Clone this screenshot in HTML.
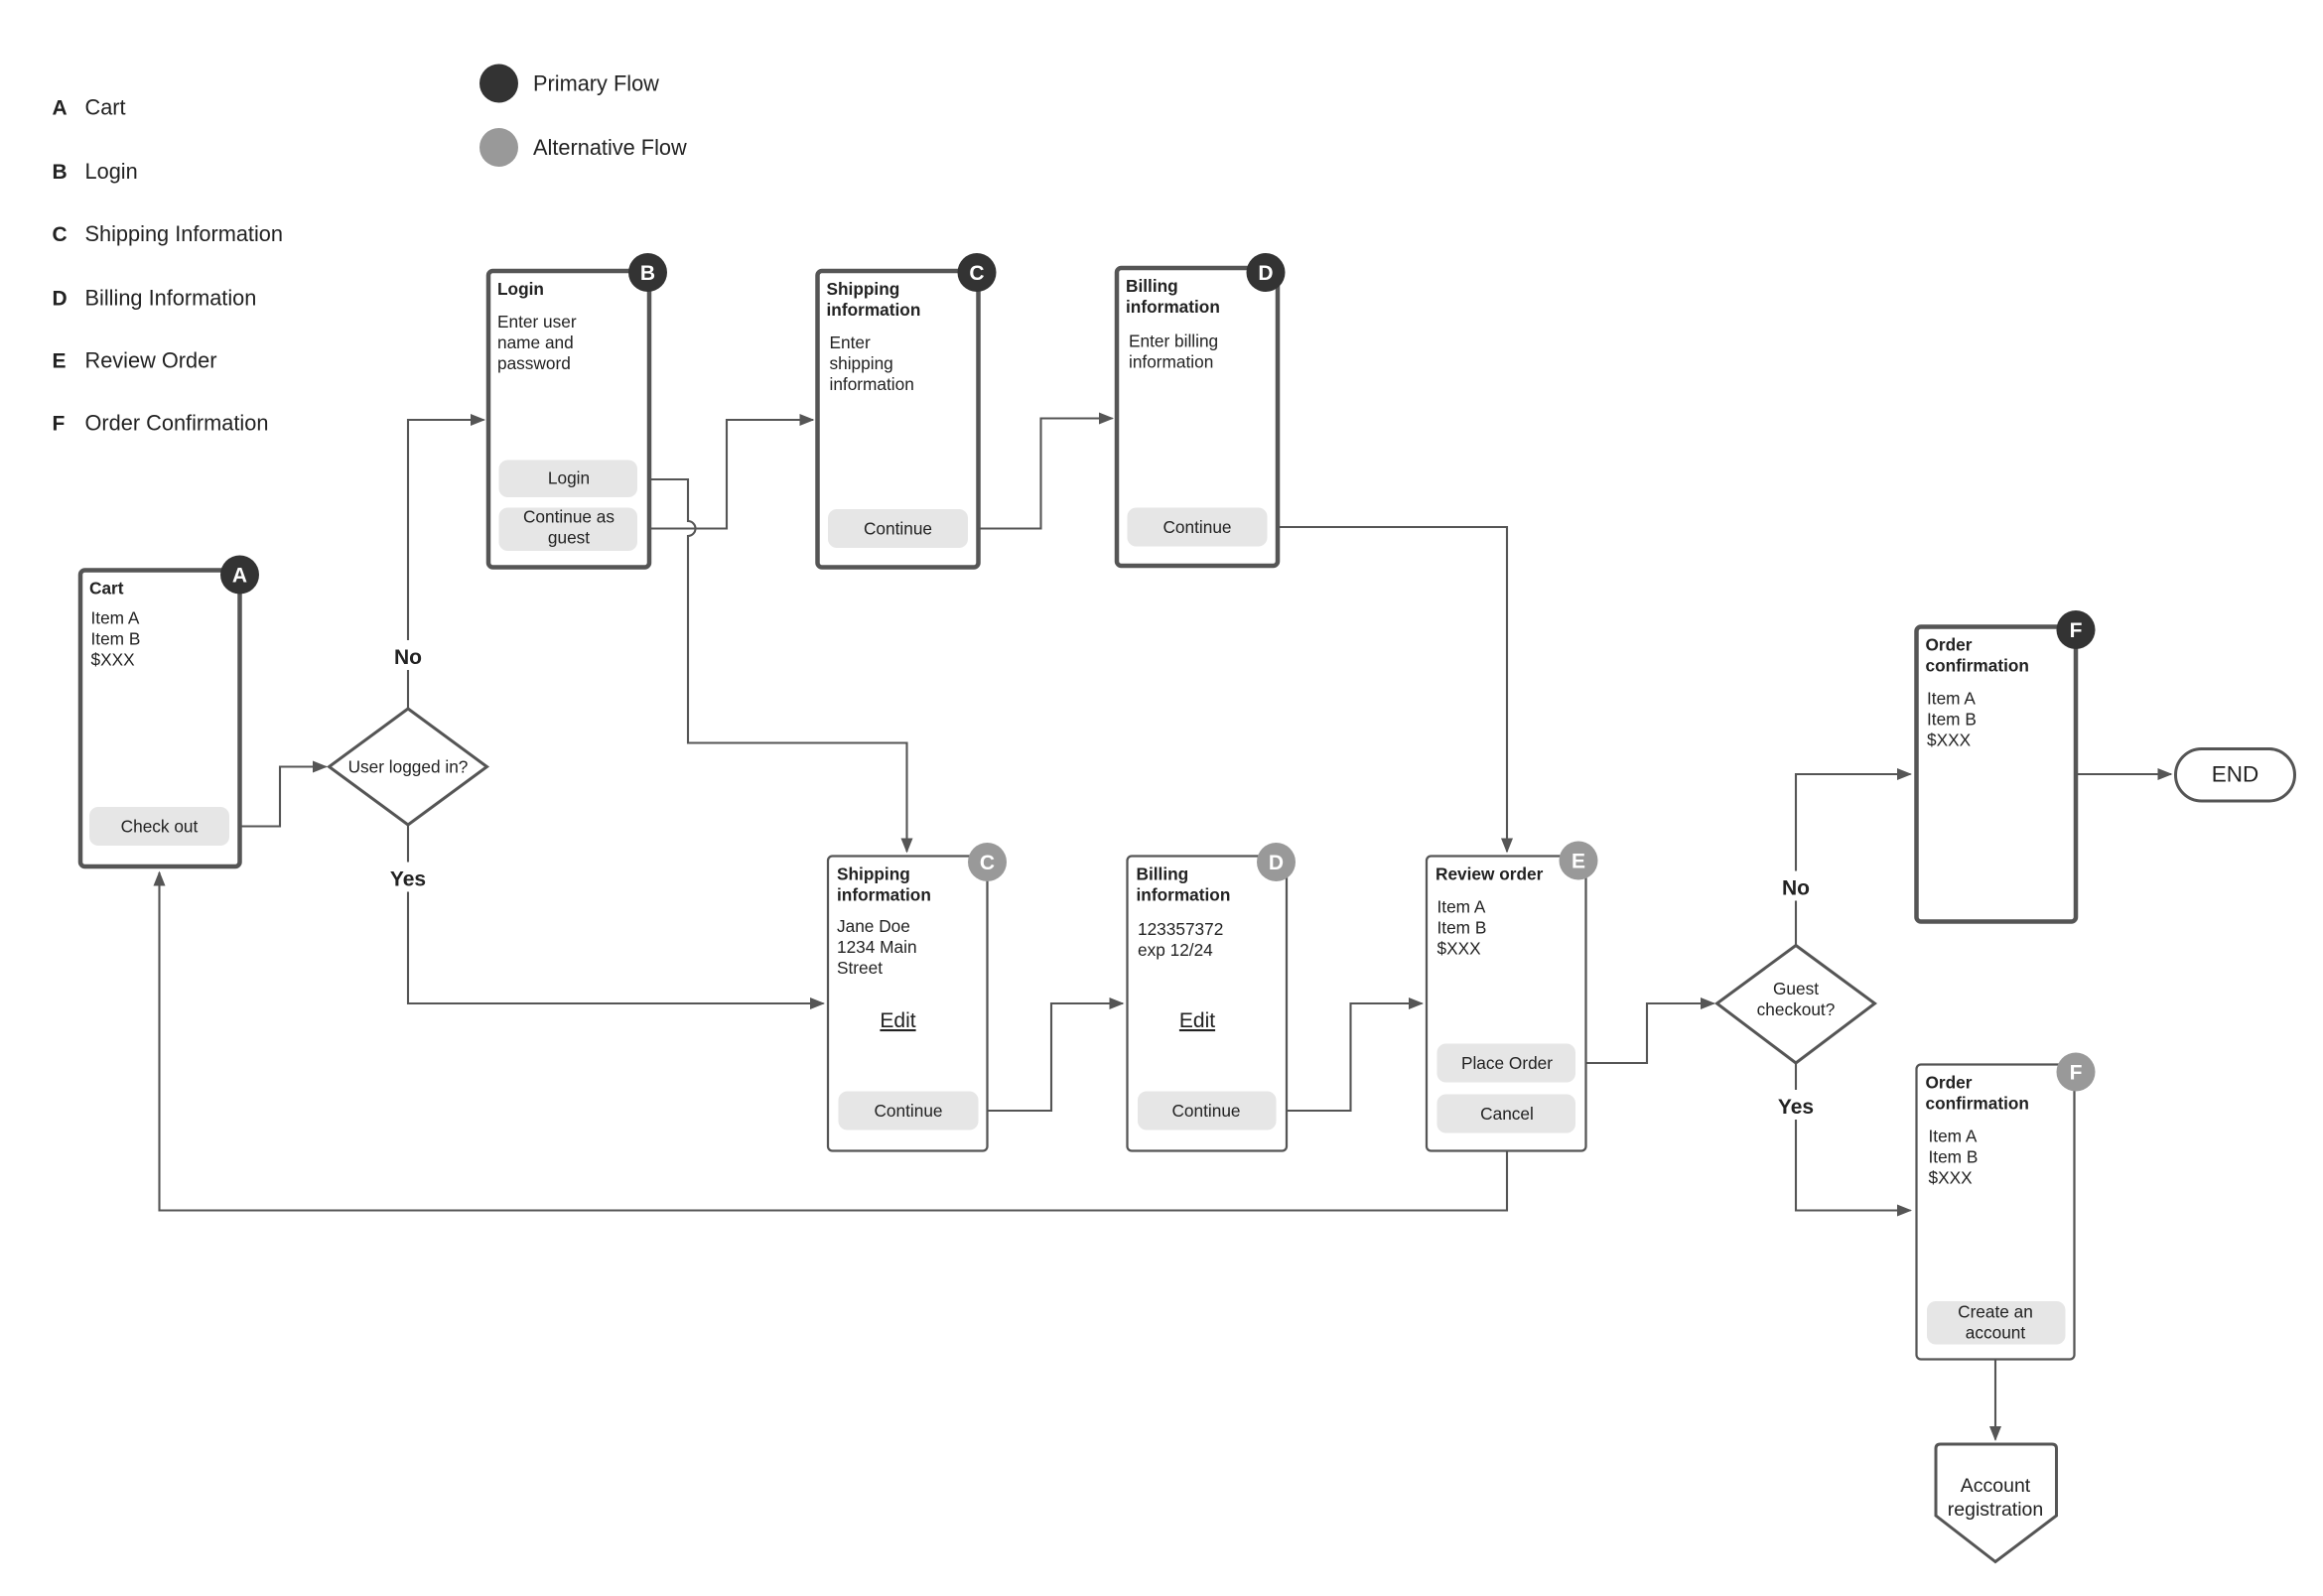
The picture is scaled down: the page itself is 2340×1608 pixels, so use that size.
<!DOCTYPE html>
<html><head><meta charset="utf-8"><style>
html,body{margin:0;padding:0;background:#fff;}
svg{display:block;}
text{font-family:"Liberation Sans",sans-serif;fill:#222;}
.t{font-size:11.5px;font-weight:bold;}
.b{font-size:11.5px;}
.btn{font-size:11.5px;text-anchor:middle;}
.lg{font-size:14.5px;}
.lgb{font-size:14px;font-weight:bold;}
.yn{font-size:14px;font-weight:bold;text-anchor:middle;}
.bd{font-size:14px;font-weight:bold;fill:#fff;text-anchor:middle;}
.ln{fill:none;stroke:#555;stroke-width:1.4;}
</style></head><body>
<svg width="2340" height="1608" viewBox="0 0 1560 1072" xmlns="http://www.w3.org/2000/svg">
<defs><marker id="ar" markerWidth="10" markerHeight="8" refX="9" refY="4" orient="auto" markerUnits="userSpaceOnUse"><path d="M0,0 L10,4 L0,8 z" fill="#555"/></marker></defs>
<rect width="1560" height="1072" fill="#fff"/>
<!-- legend -->
<g>
<text class="lgb" x="35" y="77">A</text><text class="lg" x="57" y="77">Cart</text>
<text class="lgb" x="35" y="120">B</text><text class="lg" x="57" y="120">Login</text>
<text class="lgb" x="35" y="162">C</text><text class="lg" x="57" y="162">Shipping Information</text>
<text class="lgb" x="35" y="205">D</text><text class="lg" x="57" y="205">Billing Information</text>
<text class="lgb" x="35" y="247">E</text><text class="lg" x="57" y="247">Review Order</text>
<text class="lgb" x="35" y="289">F</text><text class="lg" x="57" y="289">Order Confirmation</text>
<circle cx="335" cy="56" r="13" fill="#333"/><text class="lg" x="358" y="61">Primary Flow</text>
<circle cx="335" cy="99" r="13" fill="#999"/><text class="lg" x="358" y="104">Alternative Flow</text>
</g>
<!-- connectors -->
<path class="ln" d="M154,555 H188 V515 H219" marker-end="url(#ar)"/>
<path class="ln" d="M274,476 V282 H325" marker-end="url(#ar)"/>
<path class="ln" d="M274,554 V674 H553" marker-end="url(#ar)"/>
<path class="ln" d="M428,322 H462 V350 A5,5 0 0 1 462,360 V499 H609 V572" marker-end="url(#ar)"/>
<path class="ln" d="M428,355 H488 V282 H546" marker-end="url(#ar)"/>
<path class="ln" d="M650,355 H699 V281 H747" marker-end="url(#ar)"/>
<path class="ln" d="M851,354 H1012 V572" marker-end="url(#ar)"/>
<path class="ln" d="M657,746 H706 V674 H754" marker-end="url(#ar)"/>
<path class="ln" d="M857,746 H907 V674 H955" marker-end="url(#ar)"/>
<path class="ln" d="M1058,714 H1106 V674 H1151" marker-end="url(#ar)"/>
<path class="ln" d="M1012,761 V813 H107 V586" marker-end="url(#ar)"/>
<path class="ln" d="M1206,635 V520 H1283" marker-end="url(#ar)"/>
<path class="ln" d="M1206,714 V813 H1283" marker-end="url(#ar)"/>
<path class="ln" d="M1394,520 H1458" marker-end="url(#ar)"/>
<path class="ln" d="M1340,903 V967" marker-end="url(#ar)"/>
<!-- labels on lines -->
<rect x="260" y="430" width="28" height="20" fill="#fff"/><text class="yn" x="274" y="446">No</text>
<rect x="258" y="579" width="32" height="20" fill="#fff"/><text class="yn" x="274" y="595">Yes</text>
<rect x="1192" y="585" width="28" height="20" fill="#fff"/><text class="yn" x="1206" y="601">No</text>
<rect x="1190" y="732" width="32" height="20" fill="#fff"/><text class="yn" x="1206" y="748">Yes</text>
<!-- diamonds -->
<polygon points="274,476 327,515 274,554 221,515" fill="#fff" stroke="#555" stroke-width="2"/>
<text class="btn" x="274" y="519">User logged in?</text>
<polygon points="1206,635 1259,674 1206,714 1153,674" fill="#fff" stroke="#555" stroke-width="2"/>
<text class="btn" x="1206" y="668">Guest</text><text class="btn" x="1206" y="682">checkout?</text>
<!-- Cart -->
<rect x="54" y="383" width="107" height="199" rx="3" fill="#fff" stroke="#555" stroke-width="3"/>
<text class="t" x="60" y="399">Cart</text>
<text class="b" x="61" y="419">Item A</text><text class="b" x="61" y="433">Item B</text><text class="b" x="61" y="447">$XXX</text>
<rect x="60" y="542" width="94" height="26" rx="6" fill="#e6e6e6"/><text class="btn" x="107" y="559">Check out</text>
<circle cx="161" cy="386" r="13" fill="#333"/><text class="bd" x="161" y="391">A</text>
<!-- Login -->
<rect x="328" y="182" width="108" height="199" rx="3" fill="#fff" stroke="#555" stroke-width="3"/>
<text class="t" x="334" y="198">Login</text>
<text class="b" x="334" y="220">Enter user</text><text class="b" x="334" y="234">name and</text><text class="b" x="334" y="248">password</text>
<rect x="335" y="309" width="93" height="25" rx="6" fill="#e6e6e6"/><text class="btn" x="382" y="325">Login</text>
<rect x="335" y="341" width="93" height="29" rx="6" fill="#e6e6e6"/><text class="btn" x="382" y="351">Continue as</text><text class="btn" x="382" y="365">guest</text>
<circle cx="435" cy="183" r="13" fill="#333"/><text class="bd" x="435" y="188">B</text>
<!-- Shipping primary -->
<rect x="549" y="182" width="108" height="199" rx="3" fill="#fff" stroke="#555" stroke-width="3"/>
<text class="t" x="555" y="198">Shipping</text><text class="t" x="555" y="212">information</text>
<text class="b" x="557" y="234">Enter</text><text class="b" x="557" y="248">shipping</text><text class="b" x="557" y="262">information</text>
<rect x="556" y="342" width="94" height="26" rx="6" fill="#e6e6e6"/><text class="btn" x="603" y="359">Continue</text>
<circle cx="656" cy="183" r="13" fill="#333"/><text class="bd" x="656" y="188">C</text>
<!-- Billing primary -->
<rect x="750" y="180" width="108" height="200" rx="3" fill="#fff" stroke="#555" stroke-width="3"/>
<text class="t" x="756" y="196">Billing</text><text class="t" x="756" y="210">information</text>
<text class="b" x="758" y="233">Enter billing</text><text class="b" x="758" y="247">information</text>
<rect x="757" y="341" width="94" height="26" rx="6" fill="#e6e6e6"/><text class="btn" x="804" y="358">Continue</text>
<circle cx="850" cy="183" r="13" fill="#333"/><text class="bd" x="850" y="188">D</text>
<!-- Shipping alt -->
<rect x="556" y="575" width="107" height="198" rx="3" fill="#fff" stroke="#555" stroke-width="1.5"/>
<text class="t" x="562" y="591">Shipping</text><text class="t" x="562" y="605">information</text>
<text class="b" x="562" y="626">Jane Doe</text><text class="b" x="562" y="640">1234 Main</text><text class="b" x="562" y="654">Street</text>
<text x="603" y="690" style="font-size:14px;text-anchor:middle;text-decoration:underline">Edit</text>
<rect x="563" y="733" width="94" height="26" rx="6" fill="#e6e6e6"/><text class="btn" x="610" y="750">Continue</text>
<circle cx="663" cy="579" r="13" fill="#999"/><text class="bd" x="663" y="584">C</text>
<!-- Billing alt -->
<rect x="757" y="575" width="107" height="198" rx="3" fill="#fff" stroke="#555" stroke-width="1.5"/>
<text class="t" x="763" y="591">Billing</text><text class="t" x="763" y="605">information</text>
<text class="b" x="764" y="628">123357372</text><text class="b" x="764" y="642">exp 12/24</text>
<text x="804" y="690" style="font-size:14px;text-anchor:middle;text-decoration:underline">Edit</text>
<rect x="764" y="733" width="93" height="26" rx="6" fill="#e6e6e6"/><text class="btn" x="810" y="750">Continue</text>
<circle cx="857" cy="579" r="13" fill="#999"/><text class="bd" x="857" y="584">D</text>
<!-- Review -->
<rect x="958" y="575" width="107" height="198" rx="3" fill="#fff" stroke="#555" stroke-width="1.5"/>
<text class="t" x="964" y="591">Review order</text>
<text class="b" x="965" y="613">Item A</text><text class="b" x="965" y="627">Item B</text><text class="b" x="965" y="641">$XXX</text>
<rect x="965" y="701" width="93" height="26" rx="6" fill="#e6e6e6"/><text class="btn" x="1012" y="718">Place Order</text>
<rect x="965" y="735" width="93" height="26" rx="6" fill="#e6e6e6"/><text class="btn" x="1012" y="752">Cancel</text>
<circle cx="1060" cy="578" r="13" fill="#999"/><text class="bd" x="1060" y="583">E</text>
<!-- Order conf primary -->
<rect x="1287" y="421" width="107" height="198" rx="3" fill="#fff" stroke="#555" stroke-width="3"/>
<text class="t" x="1293" y="437">Order</text><text class="t" x="1293" y="451">confirmation</text>
<text class="b" x="1294" y="473">Item A</text><text class="b" x="1294" y="487">Item B</text><text class="b" x="1294" y="501">$XXX</text>
<circle cx="1394" cy="423" r="13" fill="#333"/><text class="bd" x="1394" y="428">F</text>
<!-- END -->
<rect x="1461" y="503" width="80" height="35" rx="17.5" fill="#fff" stroke="#555" stroke-width="2"/>
<text x="1501" y="525" style="font-size:15px;text-anchor:middle">END</text>
<!-- Order conf alt -->
<rect x="1287" y="715" width="106" height="198" rx="3" fill="#fff" stroke="#555" stroke-width="1.5"/>
<text class="t" x="1293" y="731">Order</text><text class="t" x="1293" y="745">confirmation</text>
<text class="b" x="1295" y="767">Item A</text><text class="b" x="1295" y="781">Item B</text><text class="b" x="1295" y="795">$XXX</text>
<rect x="1294" y="874" width="93" height="29" rx="6" fill="#e6e6e6"/><text class="btn" x="1340" y="885">Create an</text><text class="btn" x="1340" y="899">account</text>
<circle cx="1394" cy="720" r="13" fill="#999"/><text class="bd" x="1394" y="725">F</text>
<!-- Account registration -->
<path d="M1303,970 H1378 Q1381,970 1381,973 V1018 L1340,1049 L1300,1018 V973 Q1300,970 1303,970 Z" fill="#fff" stroke="#555" stroke-width="2"/>
<text x="1340" y="1002" style="font-size:13px;text-anchor:middle">Account</text>
<text x="1340" y="1018" style="font-size:13px;text-anchor:middle">registration</text>
</svg>
</body></html>
